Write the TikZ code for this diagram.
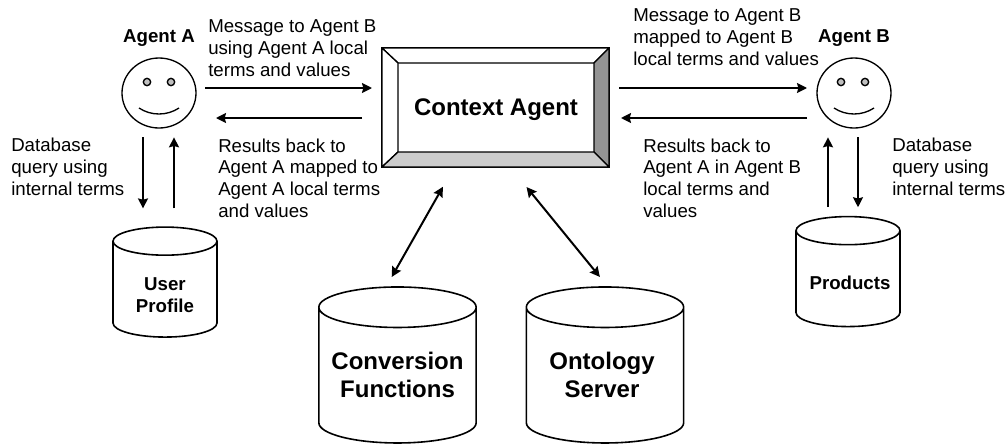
\documentclass[tikz,border=0pt]{standalone}
\usepackage{fontspec}
\setmainfont{Liberation Sans}
\usetikzlibrary{arrows.meta,positioning,shapes.geometric,calc}

\begin{document}
\begin{tikzpicture}[
        x=0.75pt,y=-0.75pt,
        font=\fontsize{14}{16.3}\selectfont,
        >={Stealth[length=7.5pt,width=7.5pt,inset=1pt]},
        agent/.style={ellipse,draw,line width=1pt,minimum width=55.5pt,minimum height=52.5pt,inner sep=0pt,outer sep=0pt},
        eye/.style={circle,draw,line width=1pt,fill=black!25,minimum size=5.5pt,inner sep=0pt},
        database/.style={cylinder,shape border rotate=90,draw,line width=1.2pt,fill=white,inner sep=0pt,outer sep=0pt},
        smalldb/.style={database,text width=62pt,aspect=0.34,minimum width=78pt,minimum height=82.5pt},
        bigdb/.style={database,text width=98pt,aspect=0.31,minimum width=118pt,minimum height=117pt},
        smallname/.style={align=center,inner sep=0pt,font=\fontsize{14}{16.3}\selectfont\bfseries},
        bigname/.style={align=center,inner sep=0pt,font=\fontsize{18}{21}\selectfont\bfseries},
        note/.style={align=left,inner sep=0pt,anchor=west},
        title/.style={font=\fontsize{14}{16.3}\selectfont\bfseries,inner sep=0pt},
        bevel/.style={draw,line width=1pt,line join=round},
        arrow/.style={->,line width=1.3pt},
        link/.style={<->,line width=1.5pt}
    ]
        \useasboundingbox (0,0) rectangle (1007,443);

        \node[agent] (agentA) at (159,93) {};
        \node[agent] (agentB) at (854,93) {};
        \node[title,above=8.5pt of agentA] (nameA) {Agent A};
        \node[title,above=8.5pt of agentB] (nameB) {Agent B};
        \node[eye] (eyeAl) at ([shift={(-12,-11)}]agentA.center) {};
        \node[eye] (eyeAr) at ([shift={(12,-11)}]agentA.center) {};
        \node[eye] (eyeBl) at ([shift={(-13,-11)}]agentB.center) {};
        \node[eye] (eyeBr) at ([shift={(11,-11)}]agentB.center) {};
        \draw[line width=1pt] ([shift={(-20,15)}]agentA.center) .. controls ([shift={(-8,23)}]agentA.center) and ([shift={(8,23)}]agentA.center) .. ([shift={(20,15)}]agentA.center);
        \draw[line width=1pt] ([shift={(-20,15)}]agentB.center) .. controls ([shift={(-8,23)}]agentB.center) and ([shift={(8,23)}]agentB.center) .. ([shift={(20,15)}]agentB.center);

        % context box with its bevel
        \node[rectangle,draw,line width=1pt,outer sep=0pt,minimum width=170.25pt,minimum height=89.25pt] (context) at (495.5,107.5) {};
        \node[rectangle,outer sep=0pt,minimum width=147pt,minimum height=66.75pt] (face) at (496,107.5) {};
        \draw[bevel,fill=white] (context.north west) -- (context.north east) -- (face.north east) -- (face.north west) -- cycle;
        \draw[bevel,fill=white] (context.north west) -- (face.north west) -- (face.south west) -- (context.south west) -- cycle;
        \draw[bevel,fill=black!42] (context.north east) -- (face.north east) -- (face.south east) -- (context.south east) -- cycle;
        \draw[bevel,fill=black!20] (context.south west) -- (face.south west) -- (face.south east) -- (context.south east) -- cycle;
        \node[bigname] (contextname) at (496,109.5) {Context Agent};

        \node[smalldb] (userdb) at (165,289.5) {};
        \node[smalldb] (products) at (848,279) {};
        \node[bigdb] (convdb) at (397.5,375.5) {};
        \node[bigdb] (ontodb) at (605,375.5) {};
        \node[smallname] (username) at (165,295) {User\\Profile};
        \node[smallname] (productsname) at (850,283) {Products};
        \node[bigname] (convname) at (397.5,375) {Conversion\\Functions};
        \node[bigname] (ontoname) at (602,375) {Ontology\\Server};

        \node[note] (msgA) at (208,48) {Message to Agent B\\using Agent A local\\terms and values};
        \node[note] (resA) at (218,178) {Results back to\\Agent A mapped to\\Agent A local terms\\and values};
        \node[note] (queryA) at (11,167) {Database\\query using\\internal terms};
        \node[note] (msgB) at (633,37) {Message to Agent B\\mapped to Agent B\\local terms and values};
        \node[note] (resB) at (643,178) {Results back to\\Agent A in Agent B\\local terms and\\values};
        \node[note] (queryB) at (892,167) {Database\\query using\\internal terms};

        \coordinate (rowtop) at (0,88);
        \coordinate (rowlow) at (0,118);
        \coordinate (colAd) at (143,0);
        \coordinate (colAu) at (174,0);
        \coordinate (colBu) at (828,0);
        \coordinate (colBd) at (858,0);

        \draw[arrow,shorten <=7pt,shorten >=7.5pt] (agentA.east|-rowtop) -- (context.west|-rowtop);
        \draw[arrow,shorten <=15pt,shorten >=15pt] (context.west|-rowlow) -- (agentA.east|-rowlow);
        \draw[arrow,shorten <=7.5pt,shorten >=7.5pt] (context.east|-rowtop) -- (agentB.west|-rowtop);
        \draw[arrow,shorten <=7.5pt,shorten >=9pt] (agentB.west|-rowlow) -- (context.east|-rowlow);
        \draw[arrow,shorten <=7pt,shorten >=14pt] (agentA.south-|colAd) -- (userdb.north-|colAd);
        \draw[arrow,shorten <=14pt,shorten >=7pt] (userdb.north-|colAu) -- (agentA.south-|colAu);
        \draw[arrow,shorten <=7pt,shorten >=7pt] (products.north-|colBu) -- (agentB.south-|colBu);
        \draw[arrow,shorten <=7pt,shorten >=7pt] (agentB.south-|colBd) -- (products.north-|colBd);
        \draw[link,shorten <=17pt,shorten >=8.6pt] ([xshift=-31pt]context.south) -- ([xshift=-8.6pt]convdb.north);
        \draw[link,shorten <=19.4pt,shorten >=9.7pt] ([xshift=11pt]context.south) -- ([xshift=2.3pt]ontodb.north);
    \end{tikzpicture}
\end{document}
